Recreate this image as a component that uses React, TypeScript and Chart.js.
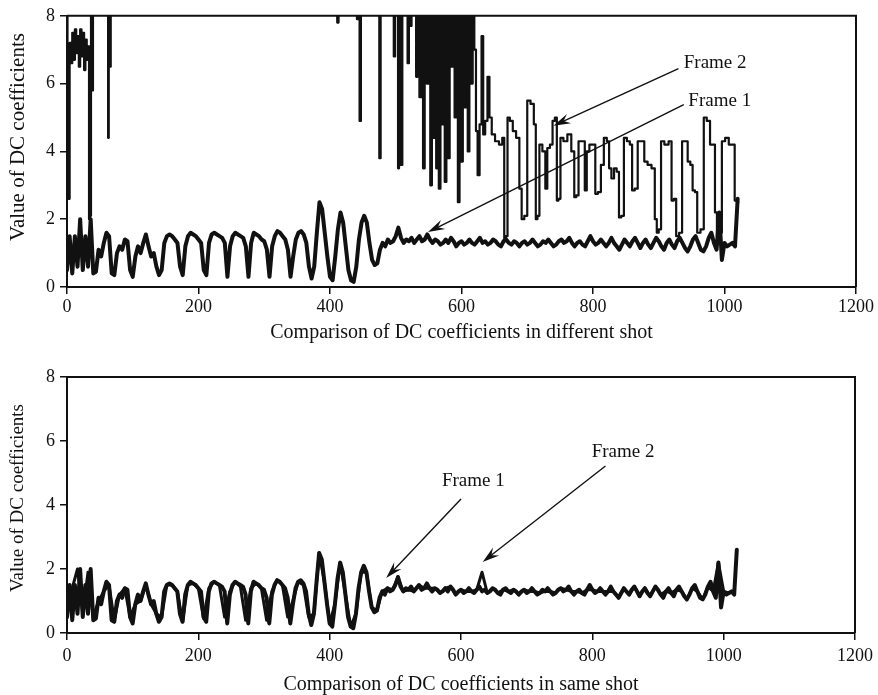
import React, { useEffect, useRef } from "react";
import { Chart, registerables } from "chart.js";

Chart.register(...registerables);

// ---------------- data ----------------
const X_MIN = 0;
const X_MAX = 1200;
const X_STEP = 200;
const Y_MIN = 0;
const Y_MAX = 8;
const Y_STEP = 2;

// Frame 1 (same frame in both panels), sampled every 4 coefficients starting at 0
const FRAME1_SPACING = 4;
const frame1Values = [
  0.5, 1.5, 0.4, 1.5, 0.6, 2.0, 0.5, 1.5, 0.6, 2.0, 0.4,
  0.45, 1.1, 0.9, 1.3, 1.6, 1.5, 0.4, 0.35, 1.0, 1.2, 1.1, 1.4, 1.35, 0.5, 0.3, 0.9, 1.2, 1.0, 1.3, 1.55, 1.2, 0.9, 1.0, 0.6, 0.35,
  0.5, 1.3, 1.5, 1.55, 1.5, 1.4, 1.3, 0.6, 0.35,
  1.2, 1.5, 1.6, 1.55, 1.5, 1.4, 1.3, 0.5, 0.35,
  1.3, 1.55, 1.6, 1.55, 1.5, 1.45, 1.3, 0.3,
  1.2, 1.5, 1.6, 1.55, 1.5, 1.45, 1.2, 0.3,
  1.3, 1.6, 1.55, 1.5, 1.4, 1.35, 1.1, 0.3,
  1.2, 1.5, 1.65, 1.6, 1.5, 1.4, 1.1, 0.3,
  0.9, 1.4, 1.6, 1.65, 1.55, 1.3, 0.6, 0.25,
  0.6, 1.6, 2.5, 2.3, 1.6, 0.9, 0.3, 0.2,
  0.9, 1.7, 2.2, 1.9, 1.2, 0.5, 0.2, 0.15,
  0.6, 1.4, 1.9, 2.1, 1.9, 1.3, 0.8, 0.65,
  0.7, 1.1, 1.3, 1.2, 1.4, 1.3, 1.35, 1.5,
  1.75, 1.45, 1.3, 1.4, 1.35, 1.45, 1.3, 1.4,
  1.5, 1.35, 1.4, 1.55, 1.4, 1.3, 1.4, 1.35,
  1.25, 1.3, 1.4, 1.3, 1.45, 1.35, 1.2, 1.3,
  1.35, 1.25, 1.3, 1.4, 1.3, 1.25, 1.35, 1.45,
  1.3, 1.35, 1.25, 1.3, 1.4, 1.35, 1.25, 1.2,
  1.35, 1.4, 1.3, 1.25, 1.35, 1.3, 1.2, 1.3,
  1.35, 1.25, 1.3, 1.4, 1.3, 1.2, 1.25, 1.35,
  1.3, 1.4, 1.3, 1.2, 1.25, 1.35, 1.4, 1.3,
  1.35, 1.45, 1.3, 1.2, 1.3, 1.35, 1.25, 1.2,
  1.35, 1.5, 1.35, 1.25, 1.3, 1.4, 1.3, 1.2,
  1.3, 1.45, 1.3, 1.2, 1.1, 1.25, 1.4, 1.3,
  1.2, 1.35, 1.45, 1.3, 1.15, 1.3, 1.4, 1.25,
  1.15, 1.3, 1.45, 1.35, 1.2, 1.1, 1.3, 1.4,
  1.25, 1.15, 1.35, 1.45, 1.3, 1.15, 1.05, 1.2,
  1.4, 1.5, 1.3, 1.1, 1.05, 1.2, 1.45, 1.6,
  1.3, 1.1, 2.2, 0.8, 1.3, 1.2, 1.25, 1.3,
  1.2, 2.6,
];

// Frame 2 of a different shot (top panel); values above 8 run off the plot
const diffShotFrame2X = [
  0, 1.5, 3, 5, 7, 9, 11, 13, 15, 17, 19, 21, 23, 25, 27, 29, 31, 33, 34, 36, 37, 39, 40,
  62, 63, 64, 66, 67,
  410, 412, 414, 440, 442, 444, 446, 448, 474, 476, 478, 496, 498, 500,
  503, 504, 506, 509, 511, 517, 519, 521, 523, 525,
  530, 532, 534, 538, 540, 543, 545,
  549, 551, 554, 556, 559, 561, 562, 564,
  567, 569, 571, 573, 576, 578,
  581, 583, 586, 588, 591, 593,
  596, 598, 601, 603, 606, 608,
  611, 613, 616, 618, 621, 623, 626, 629, 632, 634, 638, 641, 644, 648,
  654, 660, 664, 666, 669, 671, 676, 680, 686, 690, 693, 698, 702, 708, 712, 714, 717,
  720, 726, 729, 732, 737, 740, 744, 746, 749, 752, 758, 764, 770, 773, 776, 780, 786,
  789, 792, 797, 802, 805, 810, 814, 819, 823, 826, 830, 834, 838, 841, 845, 849, 854,
  858, 861, 866, 870, 876, 880, 886, 892, 896, 898, 902, 905, 912, 918, 921, 925, 928,
  934, 937, 942, 946, 950, 953, 957, 960, 967, 970, 976, 980, 984, 987, 990, 994, 998,
  1004, 1009, 1014, 1017, 1021,
];
const diffShotFrame2Y = [
  10, 6.5, 2.6, 7.2, 6.6, 7.5, 6.7, 7.6, 6.9, 7.4, 6.5, 7.6, 6.8, 7.5, 6.4, 7.3, 6.7, 7.1, 2.0, 2.1, 12, 5.8, 12,
  12, 4.4, 12, 6.5, 12,
  12, 7.8, 12, 12, 7.9, 12, 4.9, 12, 12, 3.8, 12, 12, 6.8, 12,
  12, 3.5, 12, 3.6, 12, 12, 6.6, 12, 7.7, 12,
  12, 6.2, 12, 5.6, 12, 3.5, 12,
  6.0, 12, 3.0, 12, 4.4, 12, 3.5, 12,
  2.9, 12, 4.8, 12, 3.1, 12,
  3.8, 12, 6.5, 12, 5.0, 12,
  2.5, 12, 3.7, 12, 5.3, 12,
  4.0, 8.5, 6.0, 8.5, 7.0, 4.6, 3.3, 4.8, 7.4, 4.5, 4.9, 6.2, 5.0, 4.5,
  4.3, 4.2, 4.4, 1.4, 1.5, 5.0, 4.9, 4.6, 4.4, 2.9, 2.0, 2.1, 5.5, 5.4, 4.8, 2.0, 2.1,
  4.2, 4.0, 2.9, 4.1, 4.2, 4.9, 5.0, 2.55, 2.6, 4.4, 4.3, 4.5, 4.0, 2.65, 2.7, 4.3, 4.3,
  2.85, 4.0, 4.2, 4.2, 2.75, 2.8, 3.6, 4.4, 4.3, 3.5, 3.2, 3.5, 3.4, 2.05, 2.1, 4.4, 4.3,
  4.2, 2.85, 2.9, 4.3, 4.3, 3.7, 3.6, 3.5, 2.0, 1.6, 1.7, 4.3, 4.2, 4.3, 2.55, 2.6, 1.5,
  1.6, 4.3, 4.3, 3.7, 3.6, 2.85, 2.8, 1.6, 1.7, 5.0, 4.9, 4.2, 4.2, 2.2, 1.5, 1.6, 4.3,
  4.4, 4.2, 4.2, 2.55, 2.5,
];

// Frame 2 of the same shot (bottom panel), sampled every 8 coefficients starting at 0
const SAME_SHOT_SPACING = 8;
const sameShotFrame2Values = [
  0.6, 1.4, 2.0, 0.6, 1.9, 0.5, 1.0, 1.3, 1.5, 0.4, 1.2, 1.4, 0.5, 0.9, 1.0, 1.5,
  0.9, 0.6, 0.5, 1.5, 1.5, 1.3, 0.35, 1.5, 1.55, 1.4, 0.45, 1.4, 1.6, 1.5, 0.5, 1.3,
  1.6, 1.45, 0.4, 1.4, 1.55, 1.4, 0.4, 1.3, 1.65, 1.5, 0.5, 1.0, 1.6, 1.5, 0.5, 0.6,
  2.5, 1.6, 0.3, 0.9, 2.2, 1.2, 0.2, 0.6, 1.9, 1.9, 0.8, 0.7, 1.3, 1.4, 1.35, 1.75,
  1.3, 1.35, 1.3, 1.5, 1.4, 1.4, 1.4, 1.25, 1.4, 1.45, 1.2, 1.35, 1.3, 1.3, 1.35, 1.9,
  1.25, 1.4, 1.25, 1.35, 1.3, 1.35, 1.2, 1.35, 1.3, 1.3, 1.25, 1.3, 1.3, 1.25, 1.4, 1.35,
  1.3, 1.3, 1.25, 1.35, 1.35, 1.3, 1.3, 1.3, 1.3, 1.1, 1.4, 1.2, 1.45, 1.15, 1.4, 1.15,
  1.45, 1.2, 1.3, 1.25, 1.35, 1.3, 1.05, 1.4, 1.3, 1.05, 1.45, 1.3, 2.2, 1.3, 1.25, 1.3,
];

const TOP_X_TITLE = "Comparison of DC coefficients in different shot";
const BOTTOM_X_TITLE = "Comparison of DC coefficients in same shot";
const Y_TITLE = "Value of DC coefficients";

// annotation arrows (in data units)
const topArrows = [
  { label: "Frame 2", textX: 938, textY: 6.6, fromX: 930, fromY: 6.44, toX: 740, toY: 4.76 },
  { label: "Frame 1", textX: 945, textY: 5.5, fromX: 938, fromY: 5.38, toX: 549, toY: 1.62 },
];
const bottomArrows = [
  { label: "Frame 1", textX: 571, textY: 4.75, fromX: 600, fromY: 4.19, toX: 486, toY: 1.72 },
  { label: "Frame 2", textX: 799, textY: 5.66, fromX: 820, fromY: 5.22, toX: 633, toY: 2.22 },
];

// ---------------- helpers ----------------
const FONT = '"Liberation Serif", "Times New Roman", serif';
const INK = "#111";

const toPoints = (values: number[], spacing: number) =>
  values.map((y, i) => ({ x: i * spacing, y }));
const zipPoints = (xs: number[], ys: number[]) => xs.map((x, i) => ({ x, y: ys[i] }));

const arrowPlugin = {
  id: "arrowNotes",
  afterDatasetsDraw(chart: any, _a: any, opts: any) {
    const { ctx } = chart;
    const xs = chart.scales.x;
    const ys = chart.scales.y;
    ctx.save();
    ctx.strokeStyle = INK;
    ctx.fillStyle = INK;
    for (const a of opts.items || []) {
      const x0 = xs.getPixelForValue(a.fromX);
      const y0 = ys.getPixelForValue(a.fromY);
      const x1 = xs.getPixelForValue(a.toX);
      const y1 = ys.getPixelForValue(a.toY);
      const ang = Math.atan2(y1 - y0, x1 - x0);
      const L = 17;
      const W = 5;
      const c = Math.cos(ang);
      const s = Math.sin(ang);
      ctx.lineWidth = 1.4;
      ctx.beginPath();
      ctx.moveTo(x0, y0);
      ctx.lineTo(x1 - 8 * c, y1 - 8 * s);
      ctx.stroke();
      ctx.beginPath();
      ctx.moveTo(x1, y1);
      ctx.lineTo(x1 - L * c + W * s, y1 - L * s - W * c);
      ctx.lineTo(x1 - 0.65 * L * c, y1 - 0.65 * L * s);
      ctx.lineTo(x1 - L * c - W * s, y1 - L * s + W * c);
      ctx.closePath();
      ctx.fill();
      ctx.font = `19px ${FONT}`;
      ctx.textAlign = "left";
      ctx.textBaseline = "middle";
      ctx.fillText(a.label, xs.getPixelForValue(a.textX), ys.getPixelForValue(a.textY));
    }
    ctx.restore();
  },
};

const framePlugin = {
  id: "boxFrame",
  afterDraw(chart: any) {
    const { ctx, chartArea: ca } = chart;
    ctx.save();
    ctx.strokeStyle = INK;
    ctx.lineWidth = 2;
    ctx.beginPath();
    ctx.moveTo(ca.left, ca.top);
    ctx.lineTo(ca.right, ca.top);
    ctx.lineTo(ca.right, ca.bottom);
    ctx.stroke();
    ctx.restore();
  },
};

const yTitlePlugin = {
  id: "yTitle",
  afterDraw(chart: any, _a: any, opts: any) {
    const { ctx } = chart;
    ctx.save();
    ctx.translate(opts.cx, opts.cy);
    ctx.rotate(-Math.PI / 2);
    ctx.font = `${opts.size}px ${FONT}`;
    ctx.fillStyle = INK;
    ctx.textAlign = "center";
    ctx.textBaseline = "middle";
    ctx.fillText(opts.text, 0, 0);
    ctx.restore();
  },
};

function makeConfig(p: {
  datasets: any[];
  xTitle: string;
  arrows: any[];
  padTop: number;
  axisHeight: number;
  yTitleCx: number;
  yTitleCy: number;
  yTitleSize: number;
  tickPad: number;
  titlePadBottom: number;
}): any {
  return {
    type: "line",
    data: { datasets: p.datasets },
    plugins: [arrowPlugin, framePlugin, yTitlePlugin],
    options: {
      responsive: false,
      animation: false,
      events: [],
      layout: { padding: { top: p.padTop, right: 22, left: 0, bottom: 0 } },
      elements: {
        point: { radius: 0 },
        line: { tension: 0, borderJoinStyle: "round", borderCapStyle: "round" },
      },
      plugins: {
        legend: { display: false },
        tooltip: { enabled: false },
        arrowNotes: { items: p.arrows },
        yTitle: { text: Y_TITLE, cx: p.yTitleCx, cy: p.yTitleCy, size: p.yTitleSize },
      },
      scales: {
        x: {
          type: "linear",
          min: X_MIN,
          max: X_MAX,
          afterFit(s: any) {
            s.height = p.axisHeight;
          },
          border: { display: true, color: INK, width: 2 },
          grid: { drawOnChartArea: false, drawTicks: true, tickLength: 7, color: INK, lineWidth: 1.5 },
          ticks: {
            stepSize: X_STEP,
            autoSkip: false,
            maxRotation: 0,
            color: INK,
            padding: p.tickPad,
            font: { family: FONT, size: 18 },
            callback: (v: any) => String(v),
          },
          title: {
            display: true,
            text: p.xTitle,
            color: INK,
            font: { family: FONT, size: 20, lineHeight: 1.2 },
            padding: { top: 0, bottom: p.titlePadBottom },
          },
        },
        y: {
          type: "linear",
          min: Y_MIN,
          max: Y_MAX,
          afterFit(s: any) {
            s.width = 67;
          },
          border: { display: true, color: INK, width: 2 },
          grid: { drawOnChartArea: false, drawTicks: true, tickLength: 7, color: INK, lineWidth: 1.5 },
          ticks: {
            stepSize: Y_STEP,
            color: INK,
            padding: 5,
            font: { family: FONT, size: 18 },
            callback: (v: any) => String(v),
          },
        },
      },
    },
  };
}

export default function App() {
  const topRef = useRef<HTMLCanvasElement>(null);
  const botRef = useRef<HTMLCanvasElement>(null);

  useEffect(() => {
    const frame1 = toPoints(frame1Values, FRAME1_SPACING);
    const top = new Chart(
      topRef.current as HTMLCanvasElement,
      makeConfig({
        datasets: [
          {
            label: "Frame 2",
            data: zipPoints(diffShotFrame2X, diffShotFrame2Y),
            borderColor: INK,
            borderWidth: 2.2,
            stepped: "middle",
            clip: 0,
          },
          {
            label: "Frame 1",
            data: frame1,
            borderColor: INK,
            borderWidth: 4,
            clip: 0,
          },
        ],
        xTitle: TOP_X_TITLE,
        arrows: topArrows,
        padTop: 15,
        axisHeight: 58,
        yTitleCx: 18,
        yTitleCy: 137,
        yTitleSize: 21,
        tickPad: 2,
        titlePadBottom: 0,
      })
    );
    const bottom = new Chart(
      botRef.current as HTMLCanvasElement,
      makeConfig({
        datasets: [
          {
            label: "Frame 1",
            data: frame1,
            borderColor: INK,
            borderWidth: 4,
            clip: 0,
          },
          {
            label: "Frame 2",
            data: toPoints(sameShotFrame2Values, SAME_SHOT_SPACING),
            borderColor: INK,
            borderWidth: 3,
            clip: 0,
          },
        ],
        xTitle: BOTTOM_X_TITLE,
        arrows: bottomArrows,
        padTop: 32,
        axisHeight: 62,
        yTitleCx: 18,
        yTitleCy: 153,
        yTitleSize: 19,
        tickPad: 5,
        titlePadBottom: -2,
      })
    );
    return () => {
      top.destroy();
      bottom.destroy();
    };
  }, []);

  return (
    <div style={{ position: "absolute", left: 0, top: 0, width: 878, height: 695, background: "#fff" }}>
      <canvas ref={topRef} width={878} height={345} style={{ position: "absolute", left: 0, top: 0 }} />
      <canvas ref={botRef} width={878} height={350} style={{ position: "absolute", left: 0, top: 345 }} />
    </div>
  );
}
